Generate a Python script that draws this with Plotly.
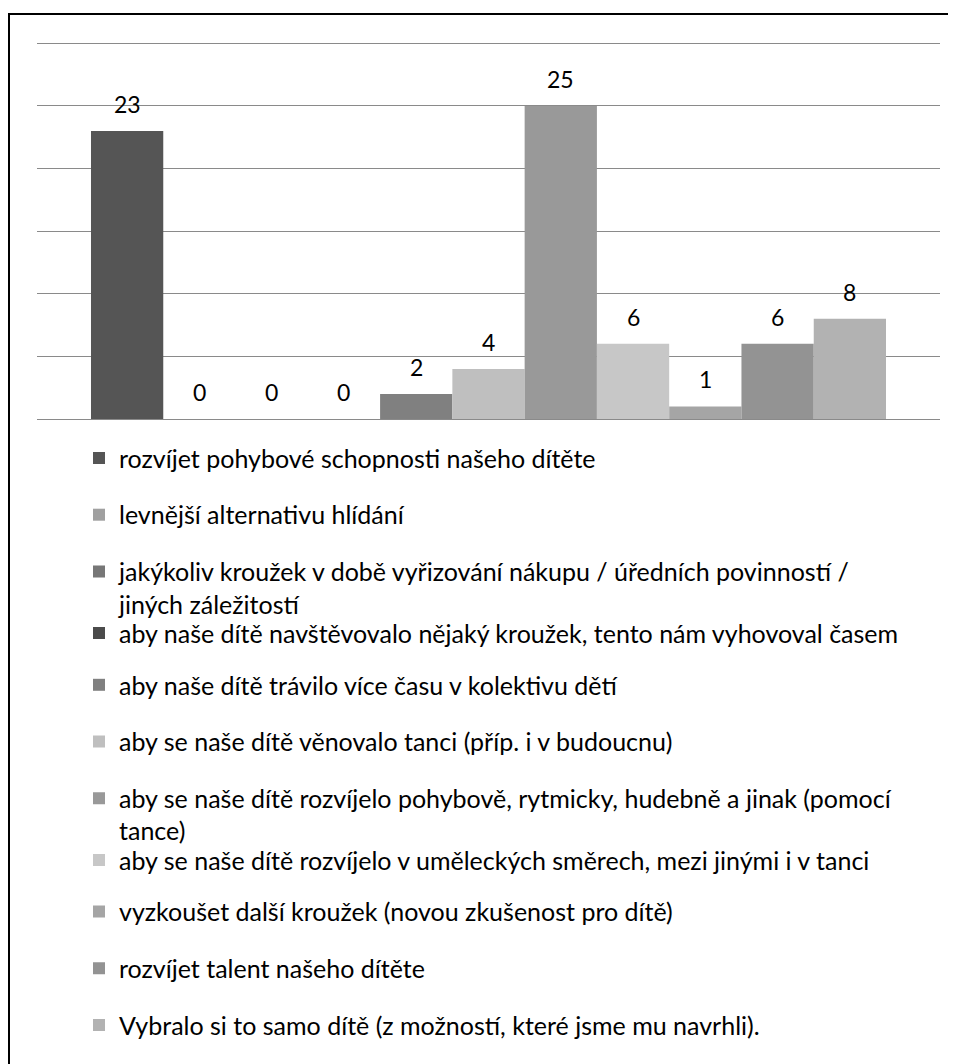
import plotly.graph_objects as go

# ---------------- data ----------------
labels = [
    "rozvíjet pohybové schopnosti našeho dítěte",
    "levnější alternativu hlídání",
    "jakýkoliv kroužek v době vyřizování nákupu / úředních povinností /<br>jiných záležitostí",
    "aby naše dítě navštěvovalo nějaký kroužek, tento nám vyhovoval časem",
    "aby naše dítě trávilo více času v kolektivu dětí",
    "aby se naše dítě věnovalo tanci (příp. i v budoucnu)",
    "aby se naše dítě rozvíjelo pohybově, rytmicky, hudebně a jinak (pomocí<br>tance)",
    "aby se naše dítě rozvíjelo v uměleckých směrech, mezi jinými i v tanci",
    "vyzkoušet další kroužek (novou zkušenost pro dítě)",
    "rozvíjet talent našeho dítěte",
    "Vybralo si to samo dítě (z možností, které jsme mu navrhli).",
]
values = [23, 0, 0, 0, 2, 4, 25, 6, 1, 6, 8]
colors = ["#555555", "#a0a0a0", "#777777", "#4b4b4b", "#808080", "#bfbfbf",
          "#999999", "#c7c7c7", "#a5a5a5", "#939393", "#b2b2b2"]
y_ticks = [0, 5, 10, 15, 20, 25, 30]

# ---------------- layout geometry ----------------
OFF = 8                      # page body margin of the html page
W, H = 956 - OFF, 1064 - OFF
ML, MR, MT, MB = 29, 16, 34, 645
PW = W - ML - MR
PH = H - MT - MB


def px_x(px):                # px given in page (reference) coordinates
    return (px - OFF - ML) / PW


def px_y(py):
    return (H - MB - (py - OFF)) / PH


FONT = "Lato"
LEG_SIZE = 25
LBL_SIZE = 23
LH = LEG_SIZE * 1.3

fig = go.Figure()
layout_legends = {}
for i, (name, v, c) in enumerate(zip(labels, values, colors)):
    lid = "legend" if i == 0 else f"legend{i + 1}"
    fig.add_trace(go.Bar(
        x=[i], y=[v], name=name, width=1,
        marker=dict(color=c, line=dict(width=0)),
        legend=lid, showlegend=True, hoverinfo="name+y",
    ))
    fig.add_annotation(
        x=i, y=v, text=str(v), showarrow=False, yshift=27, yanchor="middle",
        font=dict(family=FONT, size=LBL_SIZE, color="#000000"),
    )
    sym_center = 458 + 56.7 * i
    # a little extra room below an entry whose text wraps onto two lines
    if i > 0 and "<br>" in labels[i - 1]:
        sym_center += 5
    top_px = sym_center - (5 + (LH + 3) / 2)
    layout_legends[lid] = dict(
        x=px_x(79), y=px_y(top_px), xanchor="left", yanchor="top",
        xref="paper", yref="paper", valign="top",
        bgcolor="rgba(0,0,0,0)", borderwidth=0,
        font=dict(family=FONT, size=LEG_SIZE, color="#000000"),
    )

fig.update_layout(
    width=W, height=H,
    margin=dict(l=ML, r=MR, t=MT, b=MB, autoexpand=False),
    paper_bgcolor="white", plot_bgcolor="white",
    barmode="overlay",
    showlegend=True,
    xaxis=dict(range=[-1.247, 11.247], showticklabels=False, showgrid=False,
               zeroline=False, showline=False, ticks=""),
    yaxis=dict(range=[0, 30.1], tickvals=y_ticks, showticklabels=False,
               showgrid=True, gridcolor="#8a8a8a", gridwidth=1.3,
               zeroline=True, zerolinecolor="#8a8a8a", zerolinewidth=1.3,
               showline=False, ticks=""),
    **layout_legends,
)

# outer frame (only left and top edges fall inside the picture)
fig.add_shape(type="rect", xref="paper", yref="paper",
              x0=px_x(9), y0=px_y(14), x1=px_x(1000), y1=px_y(1120),
              line=dict(color="black", width=2), fillcolor="rgba(0,0,0,0)",
              layer="above")

fig.write_html("out.html")
